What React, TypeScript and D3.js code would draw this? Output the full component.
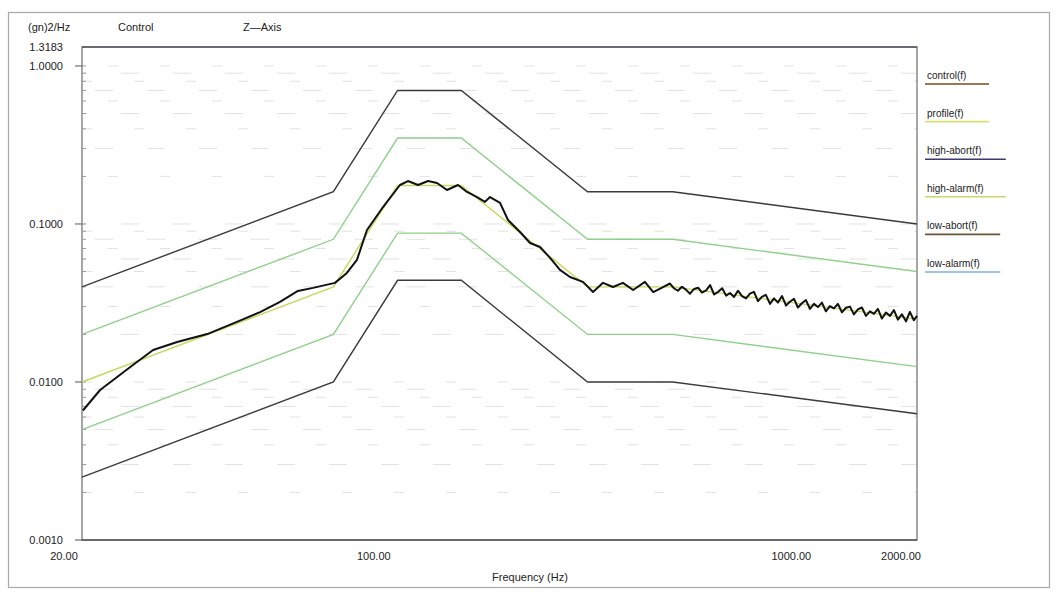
import React from "react";
import * as d3 from "d3";

// Profile breakpoints (Hz) and PSD values (g^2/Hz)
const profileFreq = [20, 80, 114, 162, 325, 520, 2000];
const profileVal = [0.01, 0.04, 0.175, 0.175, 0.04, 0.04, 0.025];
const highAbortVal = [0.04, 0.16, 0.7, 0.7, 0.16, 0.16, 0.1];
const highAlarmVal = [0.02, 0.08, 0.35, 0.35, 0.08, 0.08, 0.05];
const lowAlarmVal = [0.005, 0.02, 0.0875, 0.0875, 0.02, 0.02, 0.0125];
const lowAbortVal = [0.0025, 0.01, 0.044, 0.044, 0.01, 0.01, 0.0063];

// Measured control spectrum
const controlFreq = [
  20.1, 22.1, 26.1, 29.6, 33.8, 39.9, 47.0, 53.4, 59.6, 65.8, 71.5, 80.7, 86.2, 91.1,
  96.3, 105.2, 115.5, 120.7, 127.6, 134.9, 141.7, 149.7, 159.1, 167.2, 176.7, 184.6,
  189.8, 200.6, 209.6, 224, 236.7, 250.1, 264.3, 279.2, 295, 317, 335, 354, 374, 395,
  418, 446, 467, 493, 512, 523, 535, 547, 559, 572, 585, 598, 611, 625, 639, 653, 668,
  683, 698, 713, 729, 745, 762, 779, 796, 814, 832, 850, 869, 889, 909, 929, 950, 971,
  992, 1015, 1037, 1060, 1084, 1108, 1133, 1158, 1184, 1210, 1237, 1265, 1293, 1322,
  1352, 1382, 1412, 1444, 1476, 1509, 1543, 1577, 1612, 1648, 1685, 1723, 1761, 1800,
  1840, 1882, 1923, 1966, 2000,
];
const controlVal = [
  0.0066, 0.0089, 0.01245, 0.01595, 0.0179, 0.0201, 0.024, 0.0277, 0.0321, 0.0377, 0.0394,
  0.0424, 0.049, 0.0592, 0.0916, 0.128, 0.1765, 0.187, 0.1765, 0.187, 0.1817, 0.164,
  0.1765, 0.1595, 0.148, 0.138, 0.148, 0.136, 0.106, 0.089, 0.0758, 0.0715, 0.061, 0.0512,
  0.0462, 0.043, 0.0371, 0.0424, 0.0399, 0.0424, 0.0382, 0.043, 0.0371, 0.0399, 0.042,
  0.0392, 0.0378, 0.0401, 0.0384, 0.0362, 0.0388, 0.0395, 0.0368, 0.038, 0.041, 0.0358,
  0.0372, 0.0392, 0.0352, 0.0366, 0.0345, 0.0378, 0.035, 0.0338, 0.0362, 0.0372, 0.0325,
  0.0346, 0.0356, 0.0312, 0.0338, 0.0318, 0.035, 0.0305, 0.0322, 0.0336, 0.0296, 0.0315,
  0.033, 0.029, 0.0312, 0.0298, 0.0318, 0.028, 0.0302, 0.0292, 0.0312, 0.0276, 0.0295,
  0.03, 0.0268, 0.0288, 0.0296, 0.0262, 0.028, 0.027, 0.029, 0.0252, 0.0275, 0.0262,
  0.0285, 0.0248, 0.0268, 0.0242, 0.0278, 0.0246, 0.0262,
];

const xTicks = [20, 100, 1000, 2000];
const xTickLabels = ["20.00", "100.00", "1000.00", "2000.00"];
const yTicks = [1.3183, 1, 0.1, 0.01, 0.001];
const yTickLabels = ["1.3183", "1.0000", "0.1000", "0.0100", "0.0010"];

const legendNames = ["control(f)", "profile(f)", "high-abort(f)", "high-alarm(f)", "low-abort(f)", "low-alarm(f)"];
const legendColors = ["#7a4a1e", "#d9e070", "#3b3b6e", "#c9d86a", "#6a5434", "#7fb0dc"];

const W = 1056;
const H = 592;
const M = { left: 82, right: 917, top: 47, bottom: 540 };
const FONT = "'Liberation Sans', Arial, sans-serif";

export default function App() {
  const x = d3.scaleLog().domain([20, 2000]).range([M.left, M.right]);
  const y = d3.scaleLog().domain([0.001, 1.3183]).range([M.bottom, M.top]);

  const line = d3
    .line<[number, number]>()
    .x((d) => x(d[0]))
    .y((d) => y(d[1]));

  const pts = (f: number[], v: number[]) => f.map((fr, i) => [fr, v[i]] as [number, number]);

  // faint minor grid
  const minor: number[] = [];
  [0.001, 0.01, 0.1, 1].forEach((dec) => {
    for (let k = 1; k <= 9; k++) {
      const v = dec * k;
      if (v > 0.001 && v < 1.3183) minor.push(v);
    }
  });

  const limitLines = [
    { v: highAbortVal, color: "#3a3a3a", w: 1.4 },
    { v: highAlarmVal, color: "#8fd08a", w: 1.4 },
    { v: profileVal, color: "#c2d95e", w: 1.4 },
    { v: lowAlarmVal, color: "#8fd08a", w: 1.4 },
    { v: lowAbortVal, color: "#3a3a3a", w: 1.4 },
  ];

  return (
    <svg
      width={W}
      height={H}
      style={{ position: "absolute", left: 0, top: 0, background: "#fff" }}
      fontFamily={FONT}
    >
      <rect x={8.5} y={12.5} width={1041} height={575} fill="none" stroke="#a8a8a8" strokeWidth={1.2} />
      <text x={28} y={31} fontSize={11} fill="#222">(gn)2/Hz</text>
      <text x={118} y={31} fontSize={11} fill="#222">Control</text>
      <text x={243} y={31} fontSize={11} fill="#222">Z—Axis</text>

      {minor.map((v, i) => (
        <line
          key={"g" + i}
          x1={M.left}
          x2={M.right}
          y1={y(v)}
          y2={y(v)}
          stroke="#e2e2e2"
          strokeWidth={1}
          strokeDasharray={i % 2 ? "18 34" : "10 42"}
          strokeDashoffset={i * 13}
        />
      ))}

      <rect
        x={M.left}
        y={M.top}
        width={M.right - M.left}
        height={M.bottom - M.top}
        fill="none"
        stroke="#777"
        strokeWidth={1.3}
      />
      <line x1={M.left} x2={M.right} y1={M.top} y2={M.top} stroke="#556" strokeWidth={1.5} />
      <line x1={M.left} x2={M.right} y1={M.bottom} y2={M.bottom} stroke="#556" strokeWidth={1.5} />

      {yTicks.map((t, i) => (
        <g key={"yt" + i}>
          {i > 0 && <line x1={M.left - 7} x2={M.left} y1={y(t)} y2={y(t)} stroke="#555" />}
          <text x={63} y={y(t) + 4} fontSize={11} textAnchor="end" fill="#222">
            {yTickLabels[i]}
          </text>
        </g>
      ))}
      {minor.map((v, i) => (
        <line key={"mt" + i} x1={M.left} x2={M.left + 4} y1={y(v)} y2={y(v)} stroke="#999" />
      ))}

      {xTicks.map((t, i) => (
        <text
          key={"xt" + i}
          x={x(t) + (i === 0 ? -18 : i === 3 ? -16 : 0)}
          y={560}
          fontSize={11}
          textAnchor="middle"
          fill="#222"
        >
          {xTickLabels[i]}
        </text>
      ))}
      <text x={530} y={581} fontSize={11} textAnchor="middle" fill="#222">
        Frequency (Hz)
      </text>

      {limitLines.map((l, i) => (
        <path key={"l" + i} d={line(pts(profileFreq, l.v)) || ""} fill="none" stroke={l.color} strokeWidth={l.w} />
      ))}
      <path
        d={line(pts(controlFreq, controlVal)) || ""}
        fill="none"
        stroke="#111"
        strokeWidth={2}
        strokeLinejoin="round"
      />

      {legendNames.map((n, i) => {
        const ly = 79 + i * 37.6;
        return (
          <g key={"lg" + i}>
            <text x={927} y={ly} fontSize={10} fill="#222">
              {n}
            </text>
            <line x1={925} x2={925 + n.length * 5.6 + 8} y1={ly + 5} y2={ly + 5} stroke={legendColors[i]} strokeWidth={1.6} />
          </g>
        );
      })}
    </svg>
  );
}
